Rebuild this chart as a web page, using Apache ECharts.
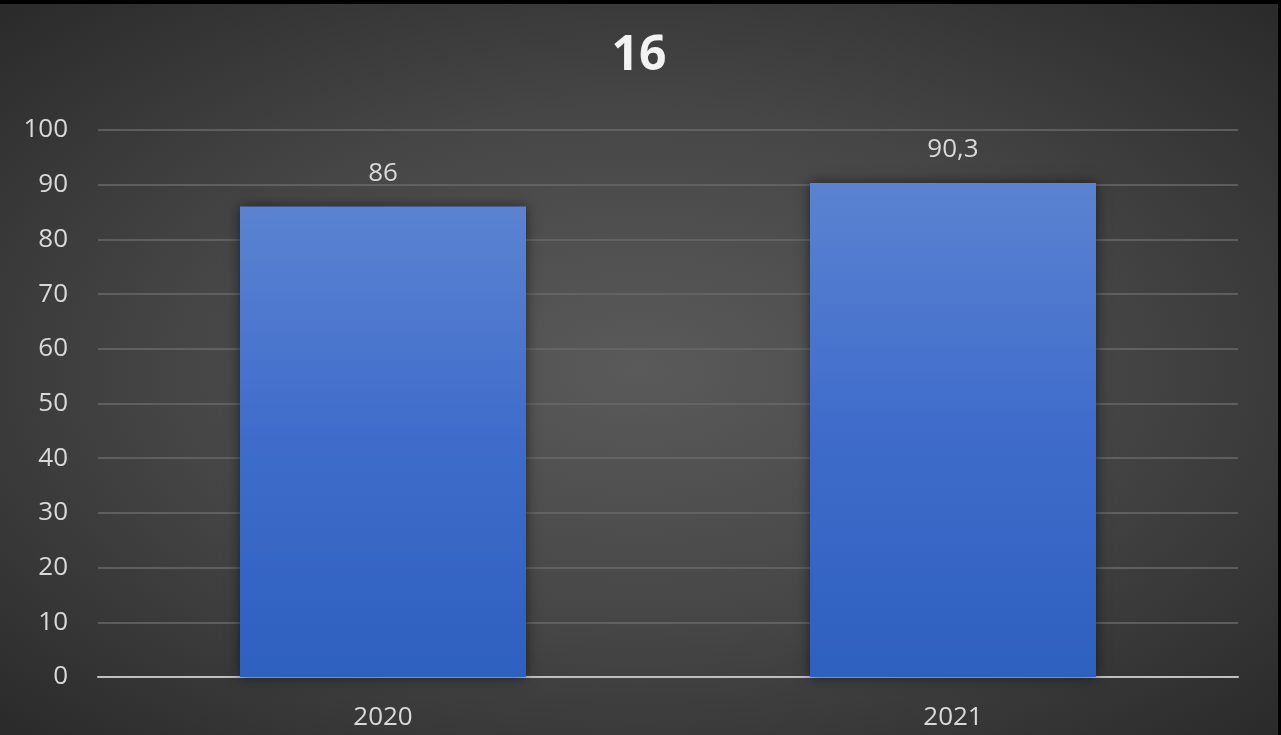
<!DOCTYPE html>
<html><head><meta charset="utf-8">
<script src="https://cdn.jsdelivr.net/npm/echarts@6/dist/echarts.min.js"></script>
<style>
html,body{margin:0;padding:0;background:#000;}
#c{position:absolute;left:0;top:4px;width:1278px;height:731px;
background:radial-gradient(ellipse at 50% 50%, #5a5a5a 0%, #464646 50%, #2a2a2a 100%);}
</style></head>
<body><div id="c"></div>
<script>
const categories = ['2020', '2021'];
const values = [86, 90.3];
const yTicks = [0, 10, 20, 30, 40, 50, 60, 70, 80, 90, 100];
const titleText = '16';

const chart = echarts.init(document.getElementById('c'));
chart.setOption({
  animation: false,
  title: { text: titleText, left: 'center', top: 23,
    textStyle: { color: '#f2f2f2', fontSize: 48, fontWeight: 'bold', fontFamily: 'Open Sans' } },
  grid: { left: 98, right: 40, top: 126, bottom: 58, containLabel: false },
  xAxis: {
    type: 'category', data: categories,
    axisLine: { lineStyle: { color: '#bfbfbf', width: 2 } },
    axisTick: { show: false },
    axisLabel: { color: '#d9d9d9', fontSize: 26, fontFamily: 'Open Sans', margin: 28 }
  },
  yAxis: {
    type: 'value', min: yTicks[0], max: yTicks[yTicks.length - 1], interval: 10,
    axisLine: { show: false }, axisTick: { show: false },
    splitLine: { lineStyle: { color: '#6a6a6a', width: 1.5 } },
    axisLabel: { color: '#d9d9d9', fontSize: 26, fontFamily: 'Open Sans', margin: 30 }
  },
  series: [{
    type: 'bar', data: values, barWidth: 286,
    itemStyle: {
      color: new echarts.graphic.LinearGradient(0, 0, 0, 1, [
        { offset: 0, color: '#5b83d2' },
        { offset: 0.5, color: '#3f6ccb' },
        { offset: 1, color: '#2e60bf' }
      ]),
      shadowColor: 'rgba(0,0,0,0.55)', shadowBlur: 12, shadowOffsetX: 0, shadowOffsetY: 0
    },
    label: {
      show: true, position: 'top', distance: 20,
      color: '#d9d9d9', fontSize: 26, fontFamily: 'Open Sans',
      formatter: p => String(p.value).replace('.', ',')
    }
  }]
});
</script></body></html>
